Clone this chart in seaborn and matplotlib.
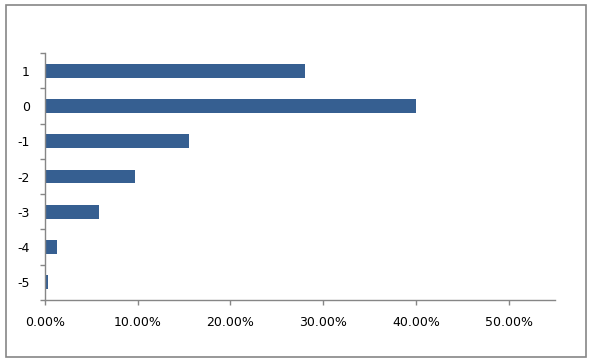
import matplotlib
matplotlib.use("Agg")
import matplotlib.pyplot as plt
import seaborn as sns
import pandas as pd
from matplotlib.patches import Rectangle
from matplotlib.ticker import FuncFormatter, FixedLocator

# values
categories = ["1", "0", "-1", "-2", "-3", "-4", "-5"]
shares = [0.280, 0.400, 0.1558, 0.0974, 0.0584, 0.0130, 0.0032]
x_ticks = [0.0, 0.1, 0.2, 0.3, 0.4, 0.5]

BAR_COLOR = "#365F91"
AXIS_COLOR = "#868686"

df = pd.DataFrame({"category": categories, "share": shares})

sns.set_theme(style="white")
plt.rcParams["font.family"] = ["DejaVu Sans"]

fig = plt.figure(figsize=(5.92, 3.63), dpi=100)
ax = fig.add_axes([45 / 592, 1 - 300 / 363, 510 / 592, 247 / 363])

sns.barplot(data=df, x="share", y="category", order=categories,
            color=BAR_COLOR, saturation=1, width=0.39, linewidth=0, ax=ax)

ax.set_xlim(0, 0.55)
ax.set_ylim(6.5, -0.5)
ax.set_xlabel("")
ax.set_ylabel("")

ax.xaxis.set_major_locator(FixedLocator(x_ticks))
ax.xaxis.set_major_formatter(FuncFormatter(lambda v, _: f"{v * 100:.2f}%"))

# excel style: y ticks sit between the categories
ax.set_yticks(range(len(categories)))
ax.set_yticks([i - 0.5 for i in range(len(categories) + 1)], minor=True)
ax.tick_params(axis="y", which="major", length=0, pad=11, labelsize=9, labelcolor="black")
ax.tick_params(axis="y", which="minor", length=3.5, width=1, color=AXIS_COLOR, left=True)
ax.tick_params(axis="x", which="major", length=3.5, width=1, color=AXIS_COLOR,
               bottom=True, pad=8, labelsize=9, labelcolor="black")

for side in ["top", "right"]:
    ax.spines[side].set_visible(False)
for side in ["left", "bottom"]:
    ax.spines[side].set_color(AXIS_COLOR)
    ax.spines[side].set_linewidth(1)

# outer chart border
fig.patches.append(Rectangle((5.5 / 592, 1 - 357 / 363), 580 / 592, 352 / 363,
                             transform=fig.transFigure, fill=False,
                             edgecolor=AXIS_COLOR, linewidth=1.2))

fig.savefig("out.png", dpi=100)
